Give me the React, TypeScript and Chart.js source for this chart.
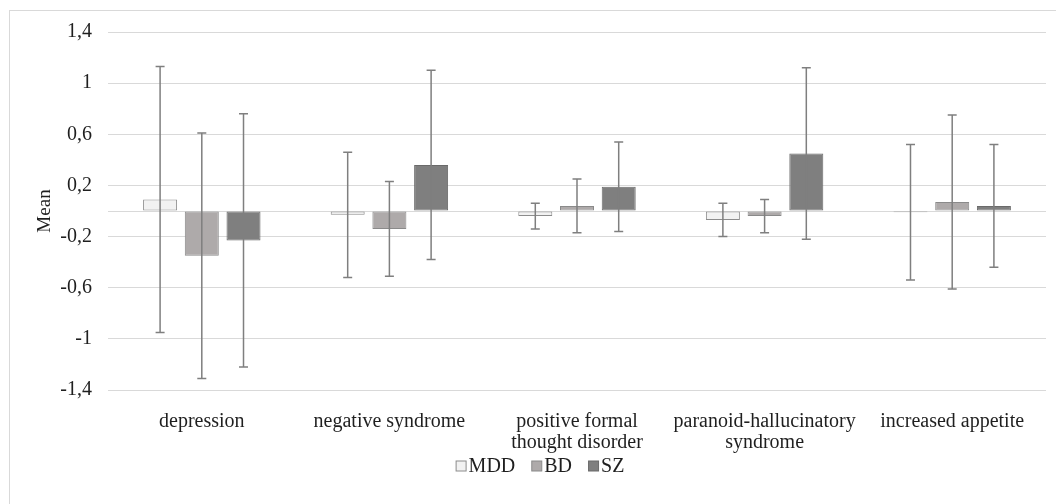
import React, { useEffect, useRef } from 'react';
import { Chart, registerables } from 'chart.js';

Chart.register(...registerables);

// Symptom dimensions on the category axis
const categories: (string | string[])[] = [
  'depression',
  'negative syndrome',
  ['positive formal', 'thought disorder'],
  ['paranoid-hallucinatory', 'syndrome'],
  'increased appetite',
];

const groupNames = ['MDD', 'BD', 'SZ'];

// Group means
const mddMean = [0.09, -0.03, -0.04, -0.07, -0.01];
const bdMean = [-0.35, -0.14, 0.04, -0.04, 0.07];
const szMean = [-0.23, 0.36, 0.19, 0.45, 0.04];

// Standard deviations (whiskers are mean ± SD)
const mddSd = [1.04, 0.49, 0.1, 0.13, 0.53];
const bdSd = [0.96, 0.37, 0.21, 0.13, 0.68];
const szSd = [0.99, 0.74, 0.35, 0.67, 0.48];

// Value axis
const yMin = -1.4;
const yMax = 1.4;
const yStep = 0.4;

const means = [mddMean, bdMean, szMean];
const sds = [mddSd, bdSd, szSd];
const fills = ['#f2f2f2', '#aeaaaa', '#7f7f7f'];
const strokes = ['#8c8c8c', '#8a8a8a', '#6a6a6a'];

const FONT = '"Liberation Serif", "Times New Roman", serif';
const TEXT = '#1f1f1f';
const GRID = '#d9d9d9';
const FONT_SIZE = 20;

const formatTick = (v: number) => {
  if (Math.abs(v) < 1e-9) return '';
  return String(Math.round(v * 10) / 10).replace('.', ',');
};

// Whiskers drawn over each bar from the dataset's SD values
const errorBars = {
  id: 'errorBars',
  afterDatasetsDraw(chart: any) {
    const { ctx } = chart;
    const y = chart.scales.y;
    const cap = 4.5;
    chart.data.datasets.forEach((_ds: any, i: number) => {
      const meta = chart.getDatasetMeta(i);
      meta.data.forEach((bar: any, j: number) => {
        const m = means[i][j];
        const s = sds[i][j];
        const top = y.getPixelForValue(m + s);
        const bot = y.getPixelForValue(m - s);
        const x = bar.x;
        ctx.save();
        ctx.strokeStyle = '#7f7f7f';
        ctx.lineWidth = 1.5;
        ctx.beginPath();
        ctx.moveTo(x, top);
        ctx.lineTo(x, bot);
        ctx.moveTo(x - cap, top);
        ctx.lineTo(x + cap, top);
        ctx.moveTo(x - cap, bot);
        ctx.lineTo(x + cap, bot);
        ctx.stroke();
        ctx.restore();
      });
    });
  },
};

// Compact legend row: small square swatch followed closely by the label
const compactLegend = {
  id: 'compactLegend',
  afterDraw(chart: any) {
    const { ctx } = chart;
    const box = 11;
    const gap = 2;
    const spacing = 16;
    ctx.save();
    ctx.font = `${FONT_SIZE}px ${FONT}`;
    ctx.textBaseline = 'middle';
    ctx.textAlign = 'left';
    const items = chart.data.datasets.map((ds: any) => ({
      label: ds.label,
      fill: ds.backgroundColor,
      stroke: ds.borderColor,
      w: ctx.measureText(ds.label).width,
    }));
    const total =
      items.reduce((acc: number, it: any) => acc + box + gap + it.w, 0) +
      spacing * (items.length - 1);
    let x = chart.width / 2 + 12 - total / 2;
    const cy = chart.height - 38;
    items.forEach((it: any) => {
      ctx.fillStyle = it.fill;
      ctx.fillRect(x + 0.5, cy - box / 2 + 0.5, box - 1, box - 1);
      ctx.strokeStyle = it.stroke;
      ctx.lineWidth = 1;
      ctx.strokeRect(x + 0.5, cy - box / 2 + 0.5, box - 1, box - 1);
      ctx.fillStyle = TEXT;
      ctx.fillText(it.label, x + box + gap, cy + 1);
      x += box + gap + it.w + spacing;
    });
    ctx.restore();
  },
};

export default function App() {
  const canvasRef = useRef<HTMLCanvasElement | null>(null);

  useEffect(() => {
    if (!canvasRef.current) return;
    const chart = new Chart(canvasRef.current, {
      type: 'bar',
      data: {
        labels: categories,
        datasets: groupNames.map((name, i) => ({
          label: name,
          data: means[i],
          backgroundColor: fills[i],
          borderColor: strokes[i],
          borderWidth: 1,
          borderSkipped: false,
          categoryPercentage: 0.667,
          barPercentage: 0.815,
        })),
      },
      options: {
        responsive: false,
        animation: false,
        devicePixelRatio: 1,
        layout: { padding: { left: 34, right: 10, top: 32, bottom: 30 } },
        font: { family: FONT },
        scales: {
          x: {
            grid: { display: false, drawTicks: false },
            border: { display: false },
            ticks: {
              color: TEXT,
              padding: 21,
              font: { family: FONT, size: FONT_SIZE, lineHeight: 1.05 },
              maxRotation: 0,
              autoSkip: false,
            },
          },
          y: {
            min: yMin,
            max: yMax,
            afterBuildTicks: (scale: any) => {
              scale.ticks.push({ value: 0 });
              scale.ticks.sort((a: any, b: any) => a.value - b.value);
            },
            afterFit: (scale: any) => {
              scale.width = 74;
            },
            grid: { color: GRID, lineWidth: 1, drawTicks: false },
            border: { display: false },
            ticks: {
              stepSize: yStep,
              color: TEXT,
              padding: 16,
              font: { family: FONT, size: FONT_SIZE },
              callback: (v: any) => formatTick(Number(v)),
            },
            title: {
              display: true,
              text: 'Mean',
              color: TEXT,
              font: { family: FONT, size: 19 },
              padding: { top: 0, bottom: 0 },
            },
          },
        },
        plugins: {
          legend: { display: false },
          tooltip: { enabled: false },
        },
      },
      plugins: [errorBars, compactLegend],
    });
    return () => chart.destroy();
  }, []);

  return (
    <div
      style={{
        position: 'fixed',
        left: 0,
        top: 0,
        width: 1056,
        height: 504,
        background: '#ffffff',
        overflow: 'hidden',
      }}
    >
      <div
        style={{
          position: 'absolute',
          left: 9,
          top: 10,
          width: 1200,
          height: 700,
          border: '1px solid #d9d9d9',
        }}
      />
      <canvas
        ref={canvasRef}
        width={1056}
        height={504}
        style={{ position: 'absolute', left: 0, top: 0 }}
      />
    </div>
  );
}
